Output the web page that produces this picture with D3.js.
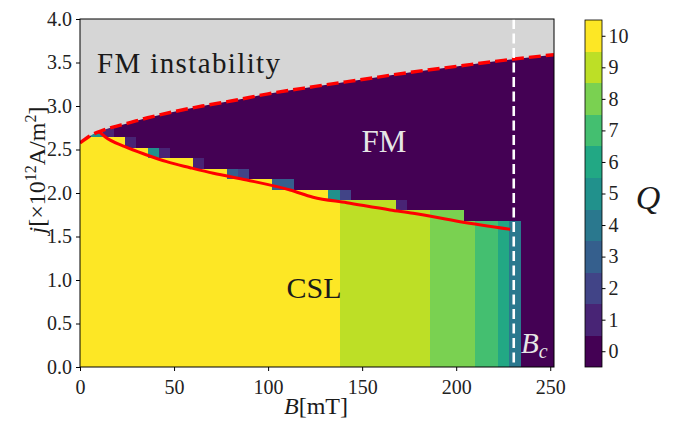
<!DOCTYPE html>
<html><head><meta charset="utf-8">
<script src="https://cdn.jsdelivr.net/npm/d3@7/dist/d3.min.js"></script>
<style>
html,body{margin:0;padding:0;background:#fff;}
svg text{font-family:"Liberation Serif","DejaVu Serif",serif;}
</style></head>
<body><svg id="c" width="674" height="421"></svg>
<script>
// ---------- data ----------
const bStep = 6;          // mT, width of a grid column
const jStep = 0.12;       // 1e12 A/m^2, height of a grid row
const colB = [0,6,12,18,24,30,36,42,48,54,60,66,72,78,84,90,96,102,108,114,120,126,132,138,144,150,156,162,168,174,180,186,192,198,204,210,216,222,228,234,240,246];
const colTopJ = [2.64,2.64,2.64,2.64,2.52,2.52,2.40,2.40,2.40,2.40,2.28,2.28,2.28,2.16,2.16,2.16,2.16,2.04,2.04,2.04,2.04,2.04,1.92,1.92,1.92,1.92,1.92,1.92,1.80,1.80,1.80,1.80,1.80,1.80,1.68,1.68,1.68,1.68,1.68,0,0,0];
const colQ = [10,10,10,10,10,10,10,10,10,10,10,10,10,10,10,10,10,10,10,10,10,10,10,9,9,9,9,9,9,9,9,8,8,8,8,7,7,6,4,0,0,0];
// transition cells at the CSL/FM border
const transB = [6,12,24,36,42,60,78,84,102,108,132,138,168];
const transJ = [2.64,2.64,2.52,2.40,2.40,2.28,2.16,2.16,2.04,2.04,1.92,1.92,1.80];
const transQ = [5,1,1,5,1,1,3,2,3,3,5,2,1];
// FM instability boundary (dashed)
const instB = [0,6,12,17,25,36,50,65,81,100,125,150,175,200,225,252];
const instJ = [2.575,2.665,2.72,2.755,2.80,2.865,2.935,3.0,3.06,3.14,3.225,3.305,3.385,3.455,3.525,3.59];
// CSL boundary (solid)
const cslB = [10.5,13.3,23.9,35.5,46.1,58.5,70.9,88.7,111.7,123.9,141.9,164.9,177.1,202.1,228.7];
const cslJ = [2.70,2.647,2.532,2.437,2.36,2.291,2.226,2.149,2.034,1.951,1.888,1.805,1.767,1.670,1.583];
const Bc = 230.6;
const xTicks = [0,50,100,150,200,250];
const yTicks = [0.0,0.5,1.0,1.5,2.0,2.5,3.0,3.5,4.0];
const qLevels = [0,1,2,3,4,5,6,7,8,9,10];

// ---------- scales ----------
const svg = d3.select("#c");
const x = d3.scaleLinear().domain([0,252]).range([80,554]);
const y = d3.scaleLinear().domain([0,4]).range([367,19]);
const color = q => d3.interpolateViridis(q/10);

svg.append("defs").append("clipPath").attr("id","plot")
  .append("rect").attr("x",x(0)).attr("y",y(4)).attr("width",x(252)-x(0)).attr("height",y(0)-y(4));

const g = svg.append("g").attr("clip-path","url(#plot)");
// FM background (Q=0)
g.append("rect").attr("x",x(0)).attr("y",y(4)).attr("width",x(252)-x(0)).attr("height",y(0)-y(4))
  .attr("fill",color(0));
// bulk columns
g.selectAll("rect.col").data(colB.map((b,i)=>({b,top:colTopJ[i],q:colQ[i]})).filter(d=>d.top>0))
  .join("rect").attr("class","col")
  .attr("x",d=>x(d.b)).attr("width",d=>x(d.b+bStep)-x(d.b)+0.4)
  .attr("y",d=>y(d.top)).attr("height",d=>y(0)-y(d.top))
  .attr("fill",d=>color(d.q)).attr("shape-rendering","crispEdges");
// transition cells
g.selectAll("rect.tr").data(transB.map((b,i)=>({b,j:transJ[i],q:transQ[i]})))
  .join("rect").attr("class","tr")
  .attr("x",d=>x(d.b)).attr("width",d=>x(d.b+bStep)-x(d.b))
  .attr("y",d=>y(d.j+jStep)).attr("height",d=>y(d.j)-y(d.j+jStep))
  .attr("fill",d=>color(d.q)).attr("shape-rendering","crispEdges");
// FM instability region
const inst = instB.map((b,i)=>[b,instJ[i]]);
g.append("path").datum(inst)
  .attr("d",d3.area().x(d=>x(d[0])).y0(y(4)).y1(d=>y(d[1])).curve(d3.curveMonotoneX))
  .attr("fill","#d6d6d6");
g.append("path").datum(inst)
  .attr("d",d3.line().x(d=>x(d[0])).y(d=>y(d[1])).curve(d3.curveMonotoneX))
  .attr("fill","none").attr("stroke","#ff0000").attr("stroke-width",3.4).attr("stroke-dasharray","12,5");
// CSL boundary
g.append("path").datum(cslB.map((b,i)=>[b,cslJ[i]]))
  .attr("d",d3.line().x(d=>x(d[0])).y(d=>y(d[1])).curve(d3.curveMonotoneX))
  .attr("fill","none").attr("stroke","#ff0000").attr("stroke-width",3);
// Bc line
g.append("line").attr("x1",x(Bc)).attr("x2",x(Bc)).attr("y1",y(4)).attr("y2",y(0))
  .attr("stroke","#fff").attr("stroke-width",2.6).attr("stroke-dasharray","10,4.5");

// labels inside plot
svg.append("text").attr("x",97).attr("y",73).attr("font-size",29).attr("fill","#1a1a1a")
  .attr("textLength",183).attr("lengthAdjust","spacing").text("FM instability");
svg.append("text").attr("x",384).attr("y",152).attr("text-anchor","middle").attr("font-size",31)
  .attr("fill","#e6e6e6").text("FM");
svg.append("text").attr("x",314).attr("y",298).attr("text-anchor","middle").attr("font-size",30)
  .attr("fill","#1a1a1a").text("CSL");
const bc = svg.append("text").attr("x",521).attr("y",353).attr("font-size",29).attr("fill","#e6e6e6");
bc.append("tspan").attr("font-style","italic").text("B");
bc.append("tspan").attr("font-style","italic").attr("font-size",20).attr("dy",5).text("c");

// frame
svg.append("rect").attr("x",x(0)).attr("y",y(4)).attr("width",x(252)-x(0)).attr("height",y(0)-y(4))
  .attr("fill","none").attr("stroke","#000").attr("stroke-width",1);

// axes
const xa = svg.append("g").attr("transform",`translate(0,${y(0)})`)
  .call(d3.axisBottom(x).tickValues(xTicks).tickSize(4).tickPadding(4).tickFormat(d3.format("d")));
const ya = svg.append("g").attr("transform",`translate(${x(0)},0)`)
  .call(d3.axisLeft(y).tickValues(yTicks).tickSize(4).tickPadding(4).tickFormat(d3.format(".1f")));
[xa,ya].forEach(a=>{
  a.select(".domain").remove();
  a.selectAll("text").attr("font-size",20).attr("fill","#222").attr("font-family","Liberation Serif");
  a.selectAll("line").attr("stroke","#000");
});
xa.selectAll("text").attr("dy","0.95em");

// axis titles
const xt = svg.append("text").attr("x",316).attr("y",414).attr("text-anchor","middle").attr("font-size",24).attr("fill","#1a1a1a");
xt.append("tspan").attr("font-style","italic").text("B");
xt.append("tspan").text("[mT]");
const yt = svg.append("text").attr("transform","translate(45,170) rotate(-90)").attr("text-anchor","middle")
  .attr("font-size",24).attr("fill","#1a1a1a");
yt.append("tspan").attr("font-style","italic").text("j");
yt.append("tspan").text("[×10");
yt.append("tspan").attr("font-size",16).attr("dy",-9).text("12");
yt.append("tspan").attr("dy",9).text("A/m");
yt.append("tspan").attr("font-size",16).attr("dy",-9).text("2");
yt.append("tspan").attr("dy",9).text("]");

// colorbar
const cy = d3.scaleLinear().domain([-0.5,10.5]).range([367,20]);
const cb = svg.append("g");
cb.selectAll("rect").data(qLevels).join("rect")
  .attr("x",585).attr("width",17).attr("y",d=>cy(d+0.5)).attr("height",d=>cy(d-0.5)-cy(d+0.5)+0.3)
  .attr("fill",d=>color(d)).attr("shape-rendering","crispEdges");
cb.append("rect").attr("x",585).attr("y",cy(10.5)).attr("width",17).attr("height",cy(-0.5)-cy(10.5))
  .attr("fill","none").attr("stroke","#000").attr("stroke-width",0.8);
const ca = svg.append("g").attr("transform","translate(602,0)")
  .call(d3.axisRight(cy).tickValues(qLevels).tickSize(3.5).tickPadding(3).tickFormat(d3.format("d")));
ca.select(".domain").remove();
ca.selectAll("text").attr("font-size",20).attr("fill","#222").attr("font-family","Liberation Serif");
svg.append("text").attr("x",648).attr("y",209).attr("text-anchor","middle").attr("font-size",34)
  .attr("font-style","italic").attr("fill","#1a1a1a").text("Q");
</script></body></html>
